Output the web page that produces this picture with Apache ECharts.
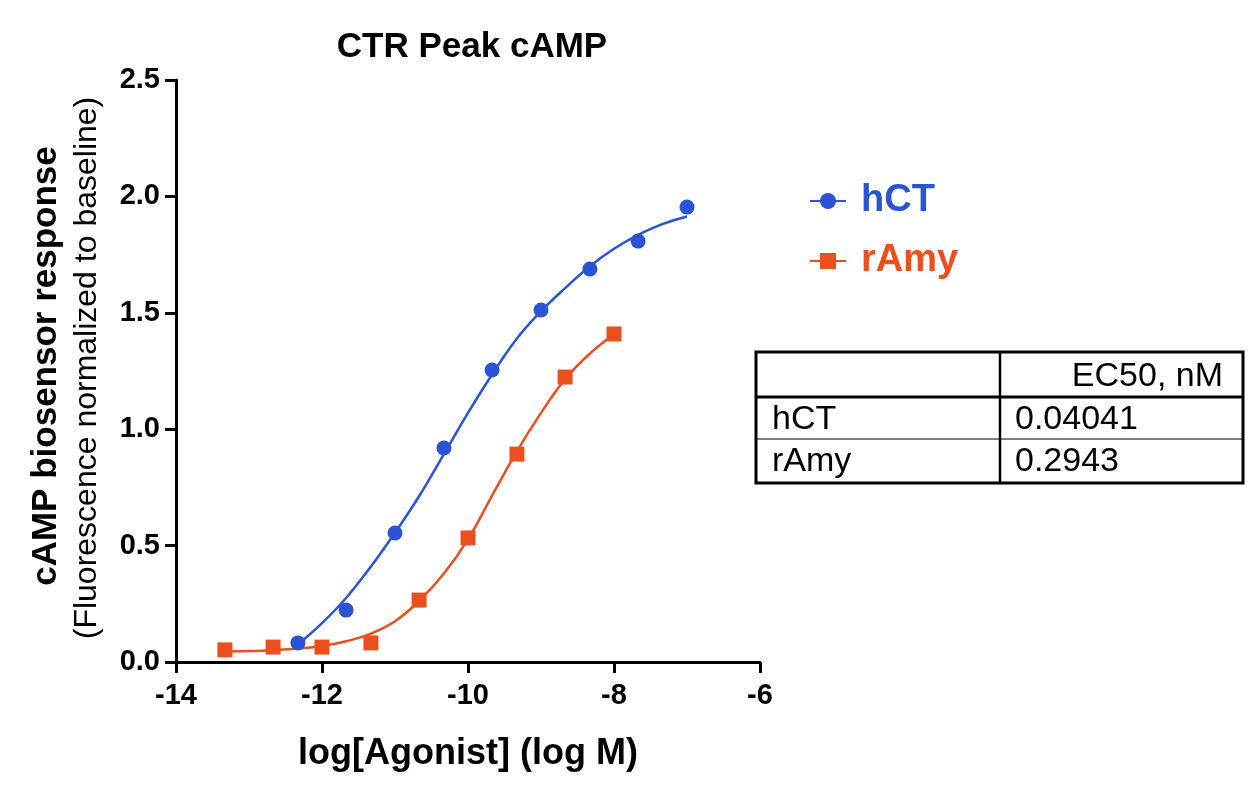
<!DOCTYPE html>
<html>
<head>
<meta charset="utf-8">
<script src="https://cdn.jsdelivr.net/npm/echarts@6/dist/echarts.min.js"></script>
<style>
  html, body { margin: 0; padding: 0; background: #ffffff; }
  #chart { width: 1257px; height: 795px; }
</style>
</head>
<body>
<div id="chart"></div>
<script>
// ---- data ----
const chartTitle = 'CTR Peak cAMP';
const xAxisTitle = 'log[Agonist] (log M)';
const yAxisTitle1 = 'cAMP biosensor response';
const yAxisTitle2 = '(Fluorescence normalized to baseline)';
const seriesNames = ['hCT', 'rAmy'];

const hctLogX = [-12.33, -11.67, -11.0, -10.33, -9.67, -9.0, -8.33, -7.67, -7.0];
const hctResp = [0.082, 0.223, 0.554, 0.919, 1.254, 1.512, 1.688, 1.808, 1.954];
const ramyLogX = [-13.33, -12.67, -12.0, -11.33, -10.67, -10.0, -9.33, -8.67, -8.0];
const ramyResp = [0.052, 0.064, 0.064, 0.082, 0.266, 0.533, 0.893, 1.224, 1.409];

// fitted curves
const hctFitX = [-12.33, -12.0, -11.67, -11.33, -11.0, -10.67, -10.33, -10.0, -9.67, -9.33, -9.0, -8.67, -8.33, -8.0, -7.67, -7.33, -7.0];
const hctFitY = [0.075, 0.167, 0.275, 0.41, 0.555, 0.712, 0.893, 1.07, 1.235, 1.39, 1.507, 1.606, 1.70, 1.775, 1.835, 1.882, 1.914];
const ramyFitX = [-13.33, -13.0, -12.67, -12.33, -12.0, -11.67, -11.33, -11.0, -10.67, -10.33, -10.0, -9.67, -9.33, -9.0, -8.67, -8.33, -8.0];
const ramyFitY = [0.045, 0.047, 0.051, 0.058, 0.069, 0.089, 0.122, 0.175, 0.262, 0.38, 0.527, 0.715, 0.905, 1.07, 1.215, 1.325, 1.408];

const tableHeader = ['', 'EC50, nM'];
const tableRowNames = ['hCT', 'rAmy'];
const tableEC50 = ['0.04041', '0.2943'];

const xTicks = { min: -14, max: -6, interval: 2 };
const yTicks = { min: 0, max: 2.5, interval: 0.5 };

// ---- styles ----
const BLUE = '#2b53d6';
const ORANGE = '#ea4f1e';
const FONT = '"Liberation Sans", Arial, Helvetica, sans-serif';

const zip = (xs, ys) => xs.map((x, i) => [x, ys[i]]);

const chart = echarts.init(document.getElementById('chart'), null, { renderer: 'canvas' });

// table graphics
const tX0 = 756, tX1 = 1243, tXm = 1000, tY0 = 352, tY1 = 397, tY2 = 439, tY3 = 483;
const tableFont = '34px ' + FONT;
const rowCenters = [420, 462];
const tableGraphic = [
  { type: 'rect', shape: { x: tX0, y: tY0, width: tX1 - tX0, height: tY3 - tY0 }, style: { fill: 'none', stroke: '#000', lineWidth: 3 } },
  { type: 'line', shape: { x1: tXm, y1: tY0, x2: tXm, y2: tY3 }, style: { stroke: '#000', lineWidth: 2.5 } },
  { type: 'line', shape: { x1: tX0, y1: tY1, x2: tX1, y2: tY1 }, style: { stroke: '#000', lineWidth: 3 } },
  { type: 'line', shape: { x1: tX0, y1: tY2, x2: tX1, y2: tY2 }, style: { stroke: '#000', lineWidth: 1 } },
  { type: 'text', x: 1223, y: 377, style: { text: tableHeader[1], font: tableFont, fill: '#000', align: 'right', verticalAlign: 'middle' } }
];
tableRowNames.forEach((n, i) => {
  tableGraphic.push({ type: 'text', x: 772, y: rowCenters[i], style: { text: n, font: tableFont, fill: '#000', align: 'left', verticalAlign: 'middle' } });
  tableGraphic.push({ type: 'text', x: 1015, y: rowCenters[i], style: { text: tableEC50[i], font: tableFont, fill: '#000', align: 'left', verticalAlign: 'middle' } });
});

const option = {
  animation: false,
  backgroundColor: '#ffffff',
  title: {
    text: chartTitle,
    left: 467,
    top: 25,
    textAlign: 'center',
    textStyle: { fontFamily: FONT, fontWeight: 'bold', fontSize: 35, color: '#000' }
  },
  legend: {
    orient: 'vertical',
    left: 804,
    top: 176,
    itemWidth: 36,
    itemHeight: 20,
    itemGap: 20,
    selectedMode: false,
    data: [
      { name: seriesNames[0], textStyle: { color: BLUE } },
      { name: seriesNames[1], textStyle: { color: ORANGE } }
    ],
    textStyle: { fontFamily: FONT, fontWeight: 'bold', fontSize: 38, lineHeight: 40, padding: [0, 0, 0, 10] }
  },
  grid: { left: 176, right: 497, top: 80, bottom: 133, containLabel: false },
  xAxis: {
    type: 'value',
    min: xTicks.min, max: xTicks.max, interval: xTicks.interval,
    name: xAxisTitle,
    nameLocation: 'middle',
    nameGap: 74,
    nameTextStyle: { fontFamily: FONT, fontWeight: 'bold', fontSize: 36, color: '#000' },
    axisLine: { show: true, onZero: false, lineStyle: { color: '#000', width: 3 } },
    axisTick: { show: true, inside: false, length: 11, lineStyle: { color: '#000', width: 3 } },
    axisLabel: { margin: 19, fontFamily: FONT, fontWeight: 'bold', fontSize: 29, color: '#000' },
    splitLine: { show: false }
  },
  yAxis: {
    type: 'value',
    min: yTicks.min, max: yTicks.max, interval: yTicks.interval,
    axisLine: { show: true, onZero: false, lineStyle: { color: '#000', width: 3 } },
    axisTick: { show: true, inside: false, length: 11, lineStyle: { color: '#000', width: 3 } },
    axisLabel: { margin: 16, fontFamily: FONT, fontWeight: 'bold', fontSize: 29, color: '#000', formatter: v => v.toFixed(1) },
    splitLine: { show: false }
  },
  graphic: [
    { type: 'text', x: 46, y: 366, rotation: Math.PI / 2, style: { text: yAxisTitle1, font: 'bold 35px ' + FONT, fill: '#000', align: 'center', verticalAlign: 'middle' } },
    { type: 'text', x: 87, y: 368, rotation: Math.PI / 2, style: { text: yAxisTitle2, font: '32px ' + FONT, fill: '#000', align: 'center', verticalAlign: 'middle' } }
  ].concat(tableGraphic),
  series: [
    {
      name: seriesNames[0], type: 'line', data: zip(hctFitX, hctFitY),
      smooth: 0.4, symbol: 'circle', symbolSize: 14, showSymbol: false,
      lineStyle: { color: BLUE, width: 2.5 }, itemStyle: { color: BLUE }, z: 2, silent: true
    },
    {
      name: seriesNames[1], type: 'line', data: zip(ramyFitX, ramyFitY),
      smooth: 0.4, symbol: 'rect', symbolSize: 14, showSymbol: false,
      lineStyle: { color: ORANGE, width: 2.5 }, itemStyle: { color: ORANGE }, z: 2, silent: true
    },
    {
      name: 'hCT data', type: 'scatter', data: zip(hctLogX, hctResp),
      symbol: 'circle', symbolSize: 15, itemStyle: { color: BLUE, opacity: 1 }, z: 3, silent: true
    },
    {
      name: 'rAmy data', type: 'scatter', data: zip(ramyLogX, ramyResp),
      symbol: 'rect', symbolSize: 15, itemStyle: { color: ORANGE, opacity: 1 }, z: 3, silent: true
    }
  ]
};
chart.setOption(option);
</script>
</body>
</html>
